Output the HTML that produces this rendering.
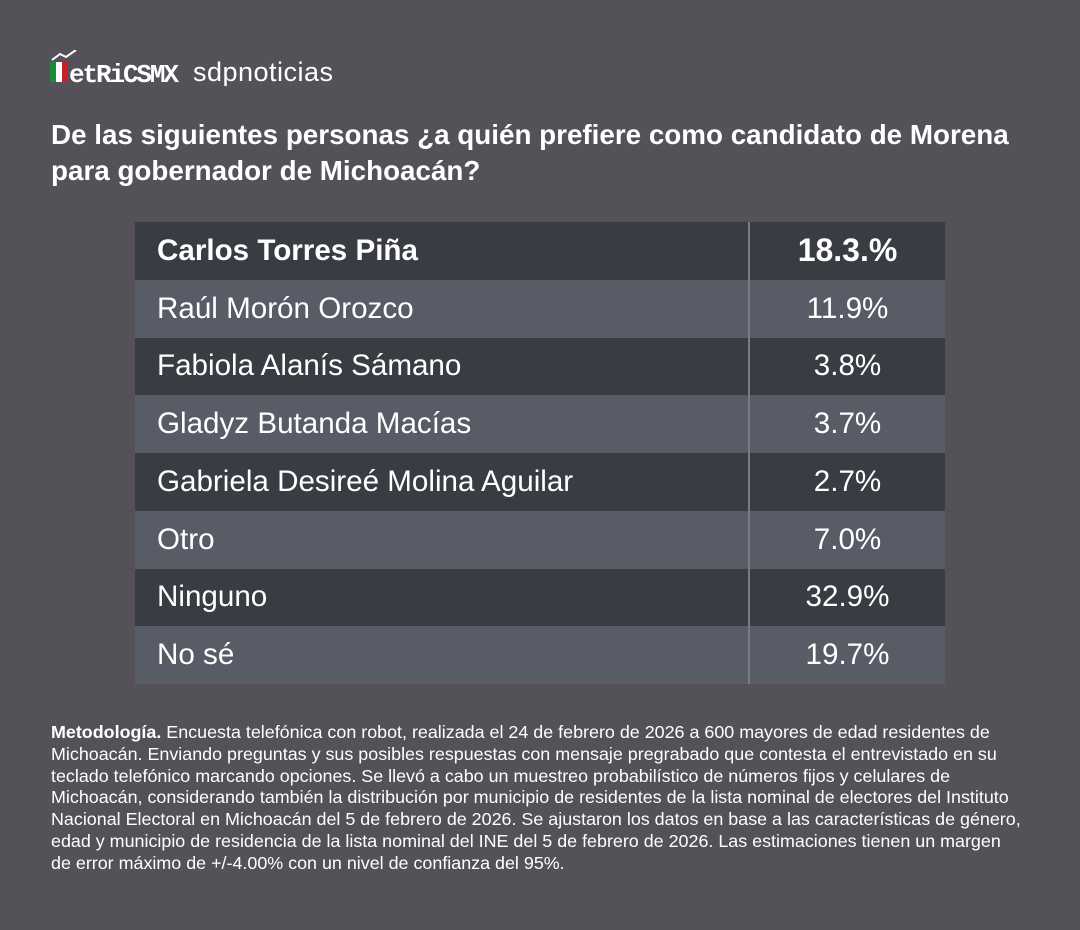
<!DOCTYPE html>
<html><head><meta charset="utf-8"><style>
body{margin:0;width:1080px;height:930px;background:#545159;font-family:"Liberation Sans",sans-serif;color:#fff;position:relative;overflow:hidden}
.logo{position:absolute;left:50px;top:50px;height:36px}
.title{position:absolute;left:51px;top:117px;font-size:27.8px;font-weight:bold;line-height:36px;width:1020px;white-space:nowrap}
table{position:absolute;left:135px;top:222px;width:810px;border-collapse:collapse}
td{height:57.75px;padding:0;font-size:29.6px}
td.n{padding-left:22px;width:591px}
td.v{text-align:center;border-left:2px solid #7a7c84}
tr.d{background:#3a3c43}
tr.l{background:#575c66}
.meta{position:absolute;left:51px;top:722px;width:990px;font-size:17.9px;line-height:21.8px}
</style></head><body>
<div class="logo">
<svg width="300" height="36" viewBox="0 0 300 36">
<rect x="0" y="12" width="6" height="20" fill="#1a8a3a"/>
<rect x="6" y="12" width="6" height="20" fill="#fff"/>
<rect x="12" y="12" width="6" height="20" fill="#c8202a"/>
<polyline points="2,10 10,4 16,7 26,0" stroke="#fff" stroke-width="2" fill="none"/>
<text x="19" y="32" font-family="Liberation Mono,monospace" font-weight="bold" font-size="26" fill="#fff" textLength="110">etRiCSMX</text>
<text x="143" y="31" font-family="Liberation Sans,sans-serif" font-size="27" fill="#fff" textLength="140">sdpnoticias</text>
</svg></div>
<div class="title">De las siguientes personas ¿a quién prefiere como candidato de Morena<br>para gobernador de Michoacán?</div>
<table>
<tr class="d"><td class="n" style="font-weight:bold">Carlos Torres Piña</td><td class="v" style="font-weight:bold;font-size:32px">18.3.%</td></tr>
<tr class="l"><td class="n">Raúl Morón Orozco</td><td class="v">11.9%</td></tr>
<tr class="d"><td class="n">Fabiola Alanís Sámano</td><td class="v">3.8%</td></tr>
<tr class="l"><td class="n">Gladyz Butanda Macías</td><td class="v">3.7%</td></tr>
<tr class="d"><td class="n">Gabriela Desireé Molina Aguilar</td><td class="v">2.7%</td></tr>
<tr class="l"><td class="n">Otro</td><td class="v">7.0%</td></tr>
<tr class="d"><td class="n">Ninguno</td><td class="v">32.9%</td></tr>
<tr class="l"><td class="n">No sé</td><td class="v">19.7%</td></tr>
</table>
<div class="meta"><b>Metodología.</b> Encuesta telefónica con robot, realizada el 24 de febrero de 2026 a 600 mayores de edad residentes de Michoacán. Enviando preguntas y sus posibles respuestas con mensaje pregrabado que contesta el entrevistado en su<br>teclado telefónico marcando opciones. Se llevó a cabo un muestreo probabilístico de números fijos y celulares de<br>Michoacán, considerando también la distribución por municipio de residentes de la lista nominal de electores del Instituto<br>Nacional Electoral en Michoacán del 5 de febrero de 2026. Se ajustaron los datos en base a las características de género,<br>edad y municipio de residencia de la lista nominal del INE del 5 de febrero de 2026. Las estimaciones tienen un margen<br>de error máximo de +/-4.00% con un nivel de confianza del 95%.</div>
</body></html>
